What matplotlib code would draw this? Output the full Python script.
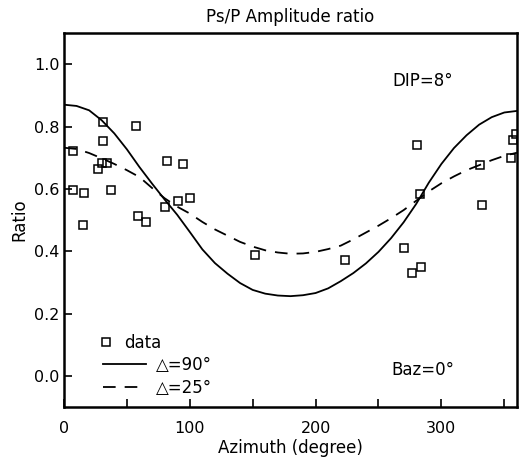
import numpy as np
import matplotlib.pyplot as plt

# observed Ps/P ratios (azimuth in degrees)
data_az = [7, 7, 16, 15, 27, 31, 31, 30, 34, 37, 57, 59, 65, 80, 82, 95, 91, 100,
           152, 223, 270, 277, 284, 281, 283, 331, 332, 355, 357, 359]
data_ratio = [0.723, 0.595, 0.586, 0.485, 0.663, 0.814, 0.753, 0.684, 0.684, 0.595,
              0.802, 0.513, 0.494, 0.542, 0.690, 0.680, 0.561, 0.571,
              0.387, 0.373, 0.411, 0.331, 0.350, 0.740, 0.582, 0.677, 0.549,
              0.698, 0.757, 0.776]

# model curves every 10 degrees
curve_az = list(range(0, 361, 10))
ratio_90 = [0.870, 0.866, 0.852, 0.820, 0.778, 0.727, 0.670, 0.617, 0.566, 0.517,
            0.462, 0.406, 0.362, 0.328, 0.298, 0.276, 0.264, 0.258, 0.256, 0.259,
            0.266, 0.281, 0.304, 0.330, 0.361, 0.398, 0.442, 0.493, 0.552, 0.620,
            0.680, 0.731, 0.772, 0.806, 0.830, 0.845, 0.850]
ratio_25 = [0.732, 0.728, 0.715, 0.698, 0.680, 0.660, 0.638, 0.603, 0.570, 0.543,
            0.521, 0.494, 0.470, 0.450, 0.430, 0.415, 0.403, 0.396, 0.392, 0.393,
            0.398, 0.407, 0.418, 0.438, 0.460, 0.482, 0.506, 0.532, 0.562, 0.592,
            0.618, 0.640, 0.660, 0.676, 0.692, 0.706, 0.716]

plt.rcParams['font.family'] = ['DejaVu Sans']
plt.rcParams['font.size'] = 11.5

fig = plt.figure(figsize=(5.2, 4.58), dpi=100)
ax = fig.add_axes([0.123, 0.111, 0.871, 0.817])

pts, = ax.plot(data_az, data_ratio, 's', mfc='none', mec='black', ms=6, mew=1.1, label='data')
l90, = ax.plot(curve_az, ratio_90, '-', color='black', lw=1.3, label='△=90°')
l25, = ax.plot(curve_az, ratio_25, color='black', lw=1.3, ls=(0, (7, 5)), label='△=25°')

ax.set_xlim(0, 360)
ax.set_ylim(-0.1, 1.1)
ax.set_xticks([0, 100, 200, 300])
ax.set_xticks([50, 150, 250, 350], minor=True)
ax.set_yticks([0.0, 0.2, 0.4, 0.6, 0.8, 1.0])
ax.set_yticklabels(['0.0', '0.2', '0.4', '0.6', '0.8', '1.0'])
ax.tick_params(axis='x', which='both', direction='in', length=6, width=1.2, pad=10, top=False)
ax.tick_params(axis='y', direction='in', length=6, width=1.2, pad=3, right=False)
for s in ax.spines.values():
    s.set_linewidth(1.8)

ax.set_title('Ps/P Amplitude ratio', fontsize=12, pad=8)
ax.set_xlabel('Azimuth (degree)', fontsize=12, labelpad=2)
ax.set_ylabel('Ratio', fontsize=12, labelpad=4)

ax.text(0.725, 0.872, 'DIP=8°', transform=ax.transAxes, fontsize=12, va='center')
ax.text(0.722, 0.10, 'Baz=0°', transform=ax.transAxes, fontsize=12, va='center')

# data entry: marker sits at the left, like the original
leg1 = ax.legend(handles=[pts], loc='lower left', bbox_to_anchor=(0.06, 0.125), frameon=False,
                 handlelength=0.8, handletextpad=0.7, borderpad=0, fontsize=12)
ax.add_artist(leg1)
ax.legend(handles=[l90, l25], loc='lower left', bbox_to_anchor=(0.067, 0.006), frameon=False,
          handlelength=2.6, handletextpad=0.6, labelspacing=0.3, borderpad=0, fontsize=12)

fig.savefig('out.png', dpi=100)
